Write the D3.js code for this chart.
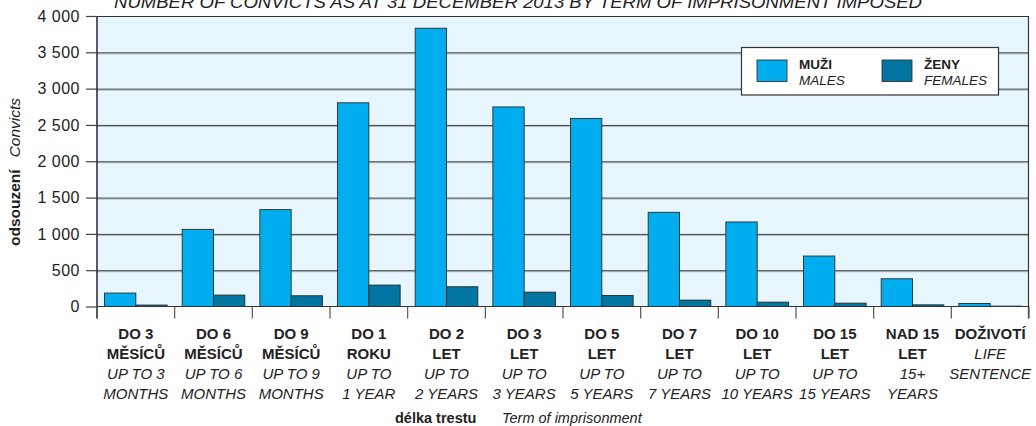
<!DOCTYPE html>
<html>
<head>
<meta charset="utf-8">
<script src="https://cdn.jsdelivr.net/npm/d3@7"></script>
<style>
  html, body { margin: 0; padding: 0; background: #ffffff; }
  svg { display: block; font-family: "Liberation Sans", Arial, Helvetica, sans-serif; }
</style>
</head>
<body>
<svg id="chart" width="1036" height="426"></svg>
<script>
// ---- data ----
const categories = ["DO 3 MĚSÍCŮ", "DO 6 MĚSÍCŮ", "DO 9 MĚSÍCŮ", "DO 1 ROKU", "DO 2 LET", "DO 3 LET",
  "DO 5 LET", "DO 7 LET", "DO 10 LET", "DO 15 LET", "NAD 15 LET", "DOŽIVOTÍ"];
const labelsCz = [["DO 3", "MĚSÍCŮ"], ["DO 6", "MĚSÍCŮ"], ["DO 9", "MĚSÍCŮ"], ["DO 1", "ROKU"],
  ["DO 2", "LET"], ["DO 3", "LET"], ["DO 5", "LET"], ["DO 7", "LET"], ["DO 10", "LET"],
  ["DO 15", "LET"], ["NAD 15", "LET"], ["DOŽIVOTÍ"]];
const labelsEn = [["UP TO 3", "MONTHS"], ["UP TO 6", "MONTHS"], ["UP TO 9", "MONTHS"], ["UP TO", "1 YEAR"],
  ["UP TO", "2 YEARS"], ["UP TO", "3 YEARS"], ["UP TO", "5 YEARS"], ["UP TO", "7 YEARS"],
  ["UP TO", "10 YEARS"], ["UP TO", "15 YEARS"], ["15+", "YEARS"], ["LIFE", "SENTENCE"]];
const males   = [185, 1062, 1334, 2805, 3832, 2748, 2590, 1297, 1164, 695, 382, 41];
const females = [20, 157, 148, 295, 272, 198, 152, 88, 60, 46, 23, 5];
const seriesNames = [["MUŽI", "MALES"], ["ŽENY", "FEMALES"]];
const yTicks = [0, 500, 1000, 1500, 2000, 2500, 3000, 3500, 4000];
const title = "NUMBER OF CONVICTS AS AT 31 DECEMBER 2013 BY TERM OF IMPRISONMENT IMPOSED";
const yTitle = ["odsouzení", "Convicts"];
const xTitle = ["délka trestu", "Term of imprisonment"];

// ---- layout ----
const svg = d3.select("#chart");
const L = 97, R = 1029, T = 16, B = 306.5;
const colors = ["#00aeef", "#0075a2"];
const fmt = v => d3.format(",")(v).replace(/,/g, " ");

const x = d3.scaleBand().domain(categories).range([L, R]).paddingInner(0).paddingOuter(0);
const xs = d3.scaleBand().domain([0, 1]).range([0, x.bandwidth()]).paddingOuter(0.24).paddingInner(0);
const y = d3.scaleLinear().domain([0, 4000]).range([B, T]);

// title
svg.append("text").attr("x", 518).attr("y", 8).attr("text-anchor", "middle")
  .attr("font-size", 16).attr("font-style", "italic").attr("fill", "#222")
  .attr("textLength", 808).attr("lengthAdjust", "spacingAndGlyphs").text(title);

// plot background
svg.append("rect").attr("x", L).attr("y", T).attr("width", R - L).attr("height", B - T).attr("fill", "#e7f6fd");

// gridlines
const grid = svg.append("g");
yTicks.filter(t => t > 0 && t < 4000).forEach(t => {
  grid.append("line").attr("x1", L).attr("x2", R).attr("y1", y(t) + 1.5).attr("y2", y(t) + 1.5)
    .attr("stroke", "#aab4b8").attr("stroke-width", 1);
  grid.append("line").attr("x1", L).attr("x2", R).attr("y1", y(t) + 0.5).attr("y2", y(t) + 0.5)
    .attr("stroke", "#444").attr("stroke-width", 1);
});

// bars
const series = [males, females];
series.forEach((vals, si) => {
  svg.append("g").selectAll("rect").data(vals).join("rect")
    .attr("x", (d, i) => x(categories[i]) + xs(si))
    .attr("y", d => y(d))
    .attr("width", xs.bandwidth())
    .attr("height", d => B - y(d))
    .attr("fill", colors[si])
    .attr("stroke", "#2a2a2a").attr("stroke-width", 0.9);
});

// frame top/right
svg.append("line").attr("x1", L).attr("x2", R).attr("y1", T + 0.5).attr("y2", T + 0.5).attr("stroke", "#333").attr("stroke-width", 1.2);
svg.append("line").attr("x1", R - 0.5).attr("x2", R - 0.5).attr("y1", T).attr("y2", B + 12).attr("stroke", "#333").attr("stroke-width", 1.2);

// y axis
const yAxis = d3.axisLeft(y).tickValues(yTicks).tickSize(11).tickPadding(6).tickFormat(fmt);
const gy = svg.append("g").attr("transform", `translate(${L},0)`).call(yAxis);
gy.select(".domain").remove();
gy.selectAll(".tick line").attr("stroke", "#444").attr("stroke-width", 1.2);
gy.selectAll(".tick text").attr("font-size", 16).attr("letter-spacing", 0.5).attr("fill", "#222")
  .attr("font-family", "Liberation Sans, Arial, sans-serif");
svg.append("line").attr("x1", L).attr("x2", L).attr("y1", T).attr("y2", B + 12).attr("stroke", "#333").attr("stroke-width", 1.6);

// x baseline
svg.append("line").attr("x1", L).attr("x2", R).attr("y1", B).attr("y2", B).attr("stroke", "#333").attr("stroke-width", 1.2);

// x boundary ticks
const bounds = categories.map(c => x(c)).concat([R]);
svg.append("g").selectAll("line").data(bounds).join("line")
  .attr("x1", d => d).attr("x2", d => d).attr("y1", B).attr("y2", B + 12)
  .attr("stroke", "#555").attr("stroke-width", 1.2);

// x category labels
const gl = svg.append("g").attr("font-size", 15).attr("fill", "#222").attr("text-anchor", "middle");
categories.forEach((c, i) => {
  const cx = x(c) + x.bandwidth() / 2;
  let line = 0;
  labelsCz[i].forEach(s => {
    gl.append("text").attr("x", cx).attr("y", 339 + 20 * line).attr("font-weight", "bold").text(s);
    line++;
  });
  labelsEn[i].forEach(s => {
    gl.append("text").attr("x", cx).attr("y", 339 + 20 * line).attr("font-style", "italic").text(s);
    line++;
  });
});

// axis titles
svg.append("text").attr("x", 395).attr("y", 423).attr("font-size", 14.5).attr("font-weight", "bold").attr("fill", "#222").text(xTitle[0]);
svg.append("text").attr("x", 502).attr("y", 423).attr("font-size", 14.5).attr("font-style", "italic").attr("fill", "#222").text(xTitle[1]);

const yt = svg.append("text").attr("transform", "translate(20,246) rotate(-90)").attr("font-size", 15.5).attr("fill", "#222");
yt.append("tspan").attr("font-weight", "bold").text(yTitle[0]);
yt.append("tspan").attr("dx", 12).attr("font-style", "italic").text(yTitle[1]);

// legend
const lg = svg.append("g");
lg.append("rect").attr("x", 741.5).attr("y", 47.5).attr("width", 257).attr("height", 47.5)
  .attr("fill", "#fff").attr("stroke", "#333").attr("stroke-width", 1.2);
const lx = [757, 882];
seriesNames.forEach((n, i) => {
  lg.append("rect").attr("x", lx[i]).attr("y", 60).attr("width", 30).attr("height", 21.5)
    .attr("fill", colors[i]).attr("stroke", "#333").attr("stroke-width", 0.9);
  lg.append("text").attr("x", lx[i] + 42).attr("y", 69).attr("font-size", 13.5).attr("font-weight", "bold").attr("fill", "#222").text(n[0]);
  lg.append("text").attr("x", lx[i] + 42).attr("y", 85).attr("font-size", 13.5).attr("font-style", "italic").attr("fill", "#222").text(n[1]);
});
</script>
</body>
</html>
